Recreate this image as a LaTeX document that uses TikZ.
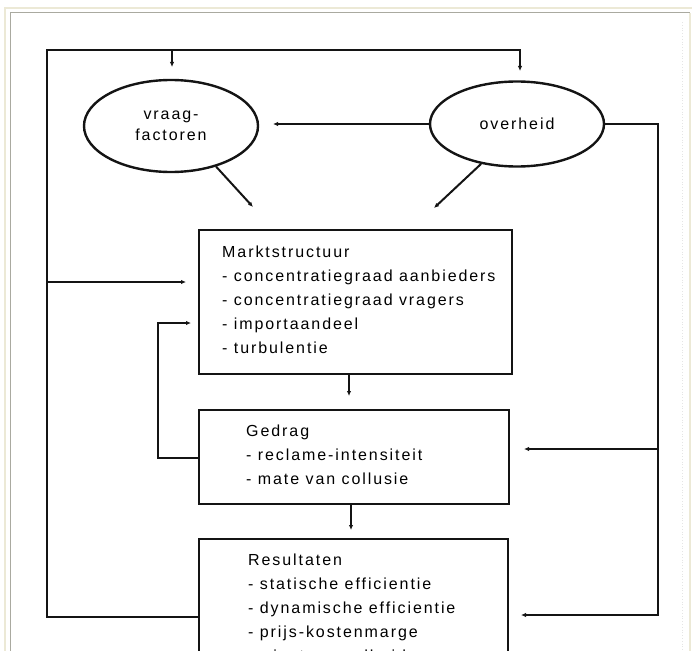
\documentclass[tikz,border=0pt]{standalone}
\usepackage{fontspec}
\setmainfont{Liberation Sans}[LetterSpace=12]
\usetikzlibrary{arrows.meta,shapes.geometric}

\definecolor{randbeige}{RGB}{236,233,214}
\definecolor{randgrijs}{RGB}{170,170,160}
\definecolor{lijnkleur}{RGB}{20,20,20}

\tikzset{
  lijn/.style={draw=lijnkleur, line width=2pt},
  pijl/.style={lijn, -{Latex[length=5pt,width=4.5pt]}},
  bol/.style={ellipse, draw=lijnkleur, line width=2.4pt, align=center, inner sep=0pt,
    font=\fontsize{16}{21}\selectfont},
  kader/.style={rectangle, draw=lijnkleur, line width=2.2pt, inner sep=0pt},
  tekst/.style={anchor=west, align=left, inner sep=0pt, font=\fontsize{16}{24}\selectfont}
}

\begin{document}
\begin{tikzpicture}[x=1pt,y=-1pt]
  \useasboundingbox (0,0) rectangle (692,650);
  % rand van het venster
  \draw[randbeige, line width=1.2pt] (5,660) -- (5,8) -- (692,8);
  \draw[randbeige, line width=1.2pt] (690,13) -- (690,660);
  \draw[randgrijs, line width=1pt] (10,660) -- (10,13) -- (690,13);
  \draw[black!10, dotted, line width=0.8pt] (682,22) -- (682,660);

  % ellipsen
  \node[bol, minimum width=174pt, minimum height=92pt] (vraag) at (171,126) {vraag-\\factoren};
  \node[bol, minimum width=174pt, minimum height=85pt] (ov) at (517,124) {overheid};

  % kaders
  \node[kader, minimum width=313pt, minimum height=144pt] (markt) at (355.5,302) {};
  \node[tekst] (markttxt) at (222,300) {Marktstructuur\\- concentratiegraad aanbieders\\- concentratiegraad vragers\\- importaandeel\\- turbulentie};
  \node[kader, minimum width=310pt, minimum height=94pt] (gedrag) at (354,457) {};
  \node[tekst] (gedragtxt) at (246,455) {Gedrag\\- reclame-intensiteit\\- mate van collusie};
  \node[kader, minimum width=309pt, minimum height=140pt] (res) at (353.5,609) {};
  \node[tekst] (restxt) at (248,609) {Resultaten\\- statische efficientie\\- dynamische efficientie\\- prijs-kostenmarge\\- winstgevendheid};

  % hulppunten
  \coordinate (lt) at (47,50);
  \coordinate (lb) at (47,617);
  \coordinate (vrin) at (172,67);
  \coordinate (ovin) at (520,71);
  \coordinate (mkin) at (186,282);
  \coordinate (vrzij) at (273,124);
  \coordinate (rt) at (658,124);
  \coordinate (resin) at (521,615);
  \coordinate (gdin) at (524,449);
  \coordinate (vrdiag) at (253,207);
  \coordinate (ovdiag) at (434,208);
  \coordinate (gdtop) at (349,396);
  \coordinate (rstop) at (351,530);
  \coordinate (lp) at (158,458);
  \coordinate (mkterug) at (191,323);

  % verbindingen
  \draw[pijl] (res.west |- lb) -- (lb) -- (lt) -| (ovin);
  \draw[pijl] (vrin |- lt) -- (vrin);
  \draw[pijl] (lt |- mkin) -- (mkin);
  \draw[pijl] (ov.west) -- (vrzij);
  \draw[pijl] (ov.east) -- (rt) |- (resin);
  \draw[pijl] (rt |- gdin) -- (gdin);
  \draw[pijl] (vraag.-42) -- (vrdiag);
  \draw[pijl] (ov.-132) -- (ovdiag);
  \draw[pijl] (gdtop |- markt.south) -- (gdtop);
  \draw[pijl] (rstop |- gedrag.south) -- (rstop);
  \draw[pijl] (gedrag.west |- lp) -- (lp) |- (mkterug);
\end{tikzpicture}
\end{document}
